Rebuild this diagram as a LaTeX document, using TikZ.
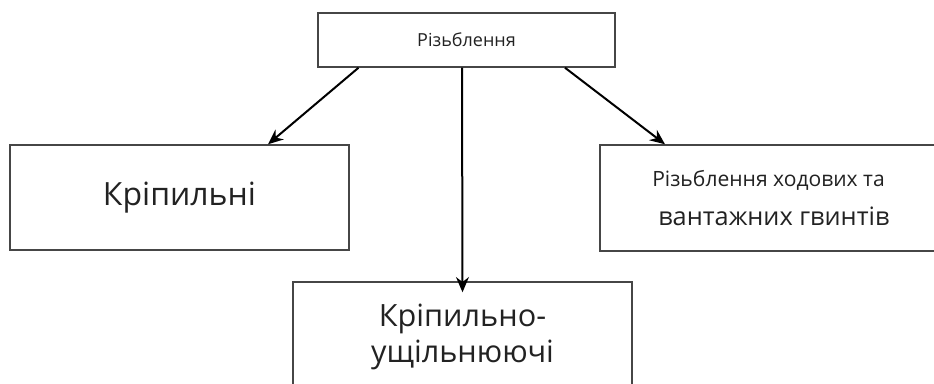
\documentclass[tikz,border=0pt]{standalone}
\usepackage{fontspec}
\setmainfont{Open Sans}
\usetikzlibrary{arrows.meta,positioning,calc}
\definecolor{boxgray}{RGB}{70,70,70}
\definecolor{txtdark}{RGB}{34,34,34}
\tikzset{
  blk/.style={rectangle, draw=boxgray, line width=1.1pt, inner sep=0pt, text=txtdark, align=center},
  darr/.style={-{Stealth[length=4mm, width=3.4mm]}, black, line width=1.5pt},
}

\begin{document}
\begin{tikzpicture}[x=0.75pt, y=-0.75pt]
  \useasboundingbox (0,0) rectangle (934,383);
  % top: the general class
  \node[blk, minimum width=222.75pt, minimum height=40.5pt,
        font=\fontsize{13.5}{16}\selectfont] (root) at (466.5,40) {Різьблення};
  % three kinds below it
  \node[blk, minimum width=254.25pt, minimum height=78.75pt,
        font=\fontsize{24}{28}\selectfont] (kripl) at (179.5,197.5) {\raisebox{-2pt}{Кріпильні}};
  \node[blk, minimum width=252.75pt, minimum height=79.5pt] (vant) at (768.5,198)
    {{\fontsize{15.8}{18}\selectfont Різьблення ходових та}\\[12pt]
     {\fontsize{19}{22}\selectfont\hspace*{8pt}вантажних гвинтів}};
  \node[blk, minimum width=254.25pt, minimum height=82.5pt,
        font=\fontsize{23}{27}\selectfont] (ushch) at (462.5,337)
    {Кріпильно-\\ущільнюючі};
  \draw[darr] ($(root.south)+(-108,0)$) -- ($(kripl.north)+(88.5,0)$);
  \draw[darr] ($(root.south)+(-4.5,0)$) -- ($(ushch.north)+(0,11)$);
  \draw[darr] ($(root.south)+(98.5,0)$) -- ($(vant.north)+(-103.5,0)$);
\end{tikzpicture}
\end{document}
